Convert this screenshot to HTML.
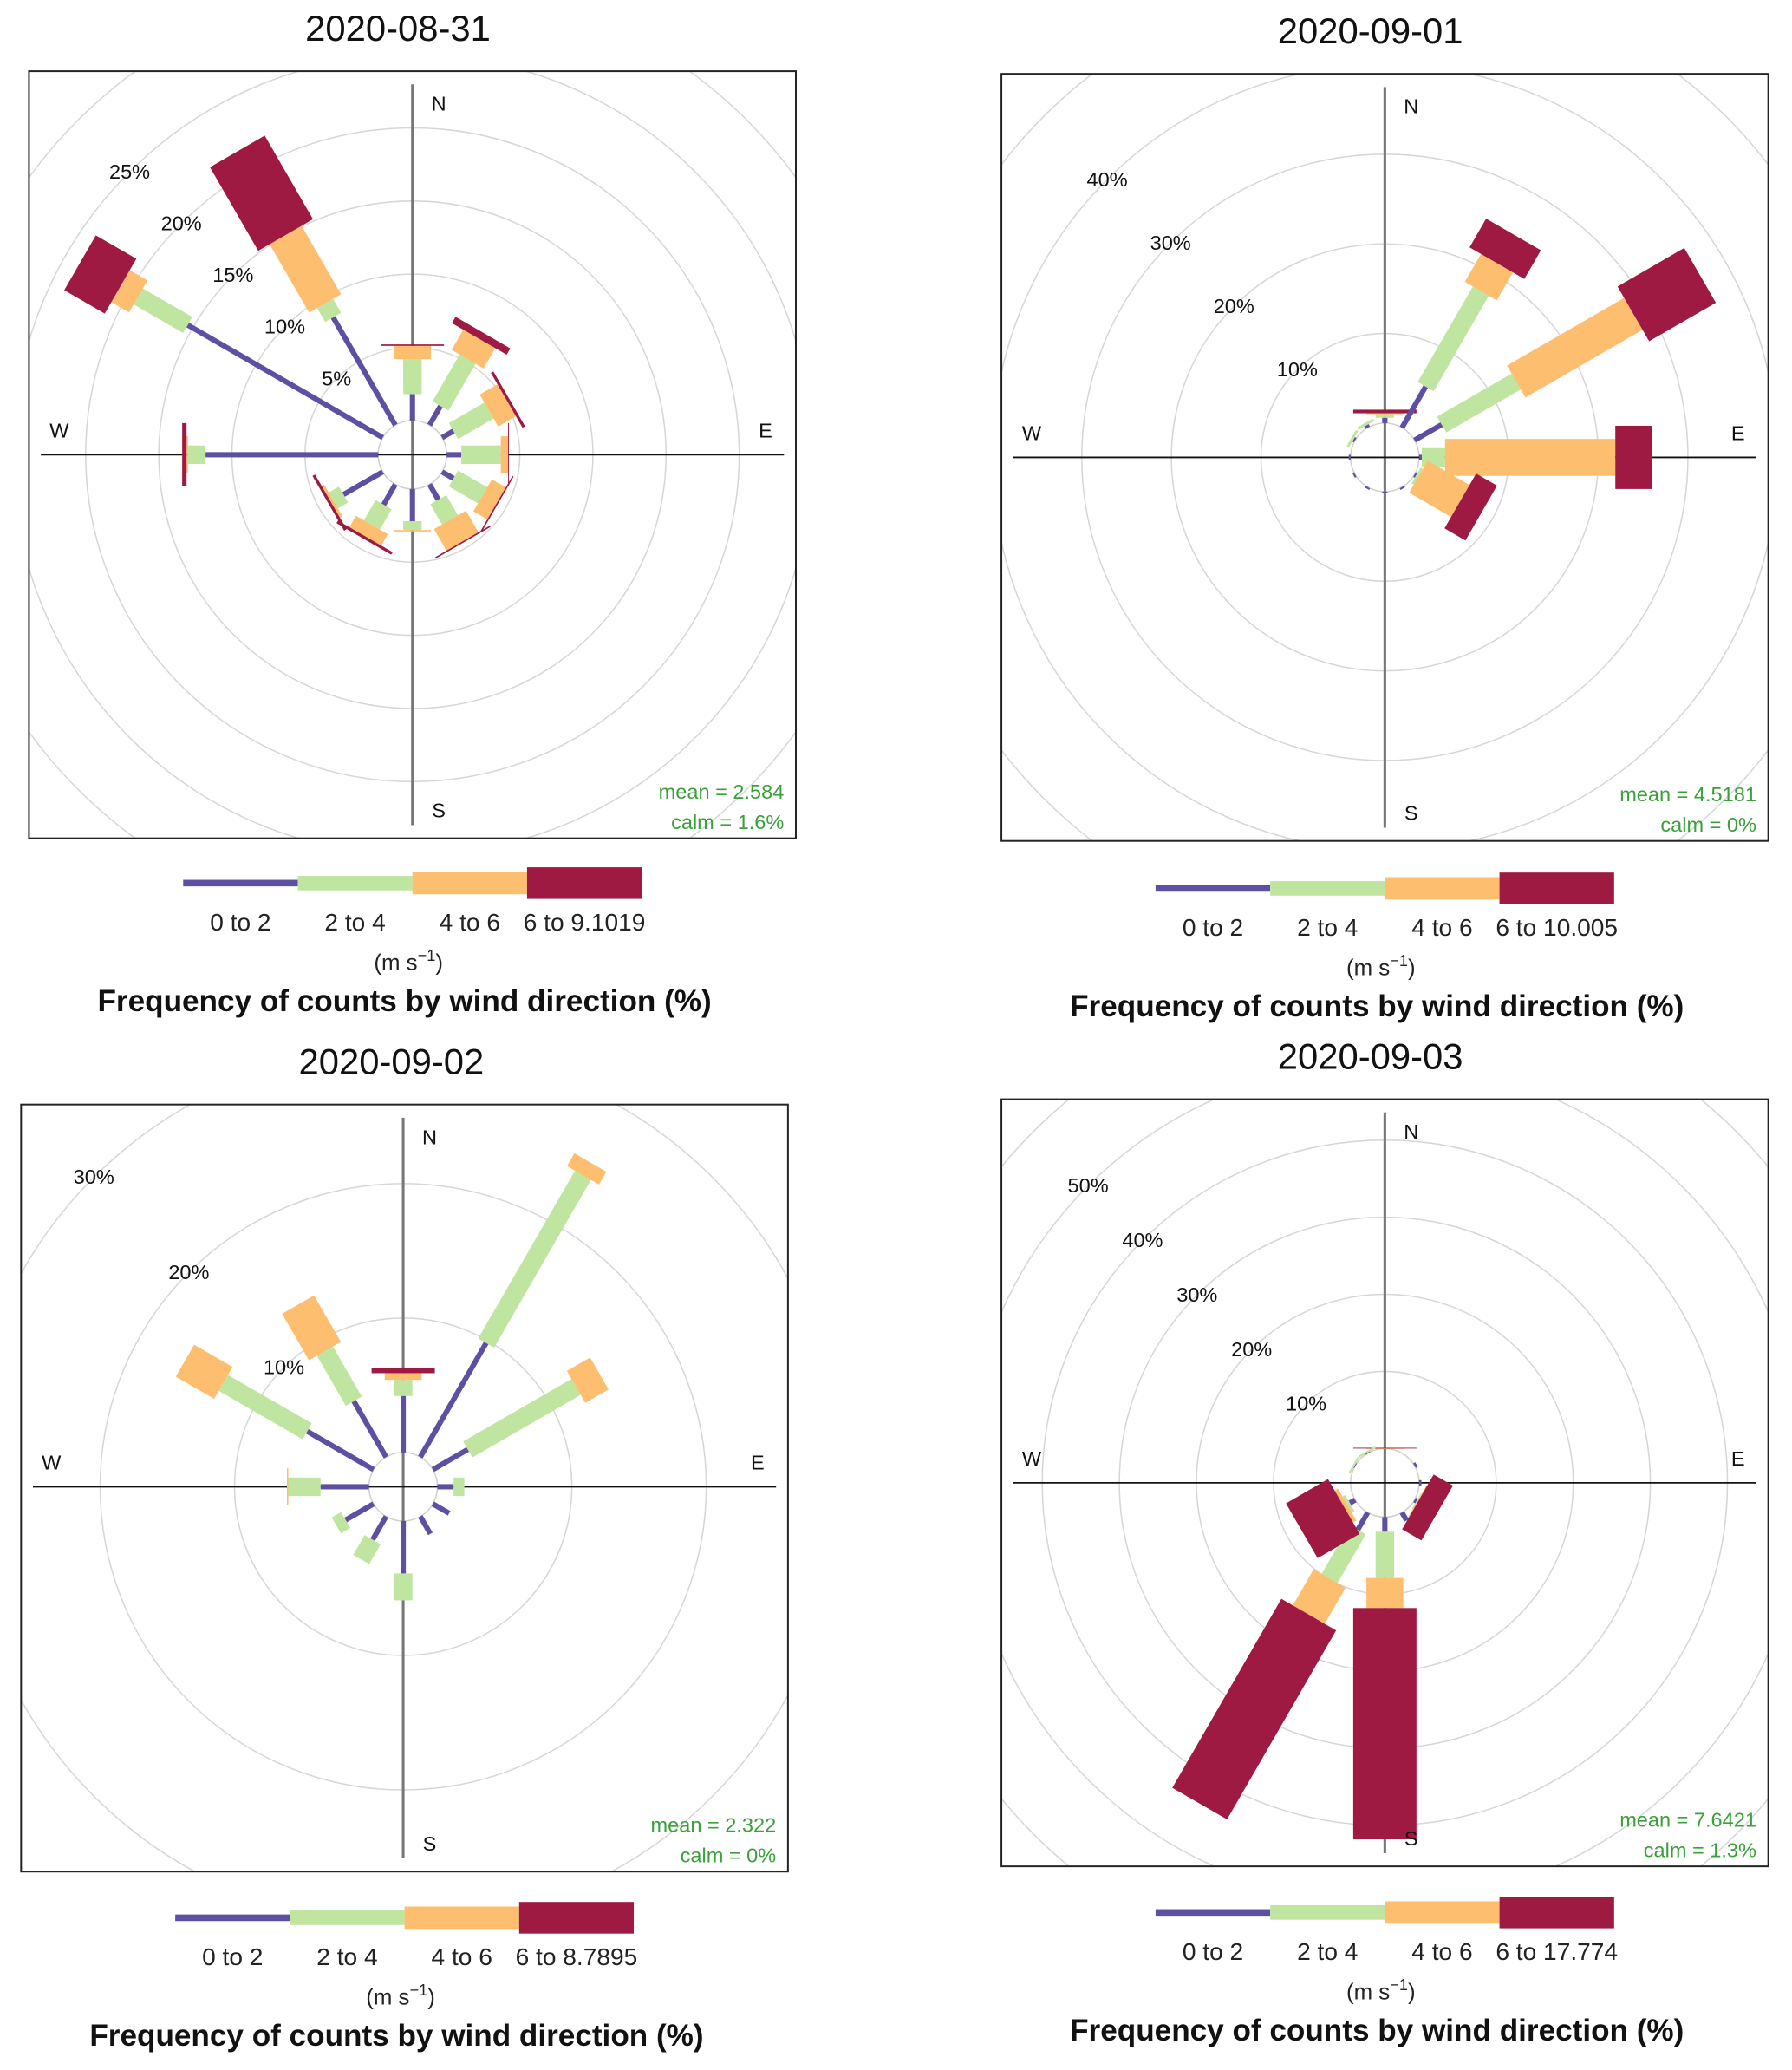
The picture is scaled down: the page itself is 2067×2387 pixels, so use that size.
<!DOCTYPE html>
<html><head><meta charset="utf-8"><style>
html,body{margin:0;padding:0;background:#fff}
svg{display:block;font-family:"Liberation Sans",Arial,sans-serif}
</style></head><body>
<svg id="chart" xmlns="http://www.w3.org/2000/svg" width="2067" height="2387" viewBox="0 0 1360 1570.5"></svg>
<script>
// ---- data (cumulative % per speed class, directions 0..330 step 30) ----
const directions = [0,30,60,90,120,150,180,210,240,270,300,330];
const classLabels = ["0 to 2","2 to 4","4 to 6"];
const titles = ["2020-08-31","2020-09-01","2020-09-02","2020-09-03"];
const maxLabels = ["6 to 9.1019","6 to 10.005","6 to 8.7895","6 to 17.774"];
const meanLabels = ["mean = 2.584","mean = 4.5181","mean = 2.322","mean = 7.6421"];
const calmLabels = ["calm = 1.6%","calm = 0%","calm = 0%","calm = 1.3%"];
const ringTicks1 = [5,10,15,20,25,30,35];
const ringTicks2 = [10,20,30,40,50];
const ringTicks3 = [10,20,30,40];
const ringTicks4 = [10,20,30,40,50,60];
const labelTicks1 = [5,10,15,20,25];
const labelTicks2 = [10,20,30,40];
const labelTicks3 = [10,20,30];
const labelTicks4 = [10,20,30,40,50];
const rose1 = [[1.8,4.2,5.1,5.2],[1.5,5.2,6.8,7.3],[0.9,3.7,5.1,5.3],[1.0,3.7,4.2,4.25],[0.9,3.2,4.3,4.4],[1.2,2.8,4.5,4.6],[2.2,2.8,2.9,2.9],[1.6,3.2,4.1,4.3],[3.1,3.9,4.1,4.3],[11.8,13.0,13.1,13.4],[15.4,19.3,20.7,23.9],[8.5,9.6,15.0,21.6]];
const rose2 = [[0.6,1.0,1.1,1.5],[5.3,17.6,21.2,24.9],[3.5,13.1,28.2,36.8],[0.3,2.9,21.9,26.0],[0.2,0.5,5.9,8.6],[0.2,0.2,0.2,0.2],[0.2,0.2,0.2,0.2],[0.2,0.2,0.2,0.2],[0.2,0.2,0.2,0.2],[0.2,0.2,0.2,0.2],[0.2,0.5,0.5,0.5],[0.3,0.6,0.6,0.6]];
const rose3 = [[4.2,5.4,5.9,6.3],[9.8,24.2,25.3,25.3],[3.0,12.3,14.3,14.3],[1.2,2.0,2.0,2.0],[1.4,1.4,1.4,1.4],[1.5,1.5,1.5,1.5],[3.9,5.9,5.9,5.9],[2.0,3.7,3.7,3.7],[2.4,3.2,3.2,3.2],[3.6,6.0,6.1,6.1],[5.7,12.9,16.2,16.2],[4.8,9.1,13.1,13.1]];
const rose4 = [[0.02,0.04,0.06,0.1],[0,0,0,0],[0.3,0.3,0.3,0.3],[0.3,0.3,0.3,0.3],[0.3,0.4,0.5,3.4],[1.2,1.2,1.2,1.2],[1.9,7.9,11.8,41.8],[2.6,9.9,15.3,43.6],[0.8,1.2,1.7,8.0],[0,0,0,0],[0.05,0.3,0.3,0.3],[0.05,0.3,0.3,0.3]];

const colors = ["#5e4fa2","#bfe5a0","#fdbe6f","#9e1a42"];
const widths = [4,14,28,48];
const legW = [5,11,17,24];
const panels = [
 {rose:rose1, rings:ringTicks1, labels:labelTicks1, box:[22,54,582], c:[313,345], scale:11.1, title:[302,31], leg:[139,670]},
 {rose:rose2, rings:ringTicks2, labels:labelTicks2, box:[760,56,582], c:[1051,347], scale:6.8, title:[1040,33], leg:[877,674]},
 {rose:rose3, rings:ringTicks3, labels:labelTicks3, box:[16,838,582], c:[306,1128], scale:10.2, title:[297,815], leg:[133,1455]},
 {rose:rose4, rings:ringTicks4, labels:labelTicks4, box:[760,834,582], c:[1051,1125], scale:5.85, title:[1040,811], leg:[877,1451]}
];
const OFF = 26;
const NS = "http://www.w3.org/2000/svg";
const svg = document.getElementById('chart');
function mk(tag, attrs, parent){const e=document.createElementNS(NS,tag);for(const k in attrs)e.setAttribute(k,attrs[k]);(parent||svg).appendChild(e);return e;}
function rad(p, pct){return OFF + pct*p.scale;}
const defs = mk('defs',{});
panels.forEach((p,i)=>{
  const [bx,by,bs]=p.box, [cx,cy]=p.c;
  const cp = mk('clipPath',{id:'clip'+i},defs);
  mk('rect',{x:bx,y:by,width:bs,height:bs},cp);
  const g = mk('g',{'clip-path':'url(#clip'+i+')'});
  
  
  mk('circle',{cx:cx,cy:cy,r:OFF,fill:'none',stroke:'#d0d0d0','stroke-width':1},g);
  p.rings.forEach(t=>{
    const c=mk('circle',{cx:cx,cy:cy,r:rad(p,t),fill:'none',stroke:'#d6d6d6','stroke-width':1},g);
    
    
  });
  mk('line',{x1:cx,y1:by+10,x2:cx,y2:by+bs-10,stroke:'#777','stroke-width':2},g);
  mk('line',{x1:bx+9,y1:cy,x2:bx+bs-9,y2:cy,stroke:'#111','stroke-width':1.2},g);
  p.rose.forEach((vals,d)=>{
    let prev=0;
    vals.forEach((v,k)=>{
      if(v-prev>0.0001){
        const r0 = k===0?OFF:rad(p,prev), r1=rad(p,v);
        const rc=mk('rect',{x:-widths[k]/2,y:-r1,width:widths[k],height:Math.max(r1-r0,0.6),fill:colors[k],transform:`translate(${cx},${cy}) rotate(${directions[d]})`},g);
        
        
      }
      prev=v;
    });
  });
  p.labels.forEach(t=>{
    const r=rad(p,t), a=Math.PI/4;
    const tx=mk('text',{x:cx-r*Math.sin(a),y:cy-r*Math.cos(a)+5,'font-size':15.5,'text-anchor':'middle',fill:'#111'},g);
    tx.textContent=t+'%';
    
    
  });
  [['N',cx+20,by+30],['S',cx+20,by+bs-16],['W',bx+23,cy-13],['E',bx+bs-23,cy-13]].forEach(a=>{
    const t=mk('text',{x:a[1],y:a[2],'font-size':15.5,'text-anchor':'middle',fill:'#111'});
    t.textContent=a[0];
    
    
  });
  const box=mk('rect',{x:bx,y:by,width:bs,height:bs,fill:'none',stroke:'#222','stroke-width':1.3});
  
  
  const m=mk('text',{x:bx+bs-9,y:by+bs-30,'font-size':15.5,'text-anchor':'end',fill:'#3aa03a'});
  m.textContent=meanLabels[i];
  
  
  const cl=mk('text',{x:bx+bs-9,y:by+bs-7,'font-size':15.5,'text-anchor':'end',fill:'#3aa03a'});
  cl.textContent=calmLabels[i];
  
  
  const tt=mk('text',{x:p.title[0],y:p.title[1],'font-size':27.5,'text-anchor':'middle',fill:'#111'});
  tt.textContent=titles[i];
  
  
  const [lx,ly]=p.leg;
  const labs=classLabels.concat([maxLabels[i]]);
  for(let k=0;k<4;k++){
    const r=mk('rect',{x:lx+k*87,y:ly-legW[k]/2,width:87,height:legW[k],fill:colors[k]});
    
    
    const t=mk('text',{x:lx+k*87+43.5,y:ly+36,'font-size':18.5,'text-anchor':'middle',fill:'#222'});
    t.textContent=labs[k];
    
    
  }
  const u=mk('text',{x:lx+171,y:ly+66,'font-size':17,'text-anchor':'middle',fill:'#222'});
  u.innerHTML='(m s<tspan dy="-7" font-size="12">−1</tspan><tspan dy="7">)</tspan>';
  
  
  const bt=mk('text',{x:lx+168,y:ly+97,'font-size':23,'font-weight':'bold','text-anchor':'middle',fill:'#111',textLength:466,lengthAdjust:'spacingAndGlyphs'});
  bt.textContent='Frequency of counts by wind direction (%)';
  
  
});
</script>
</body></html>
